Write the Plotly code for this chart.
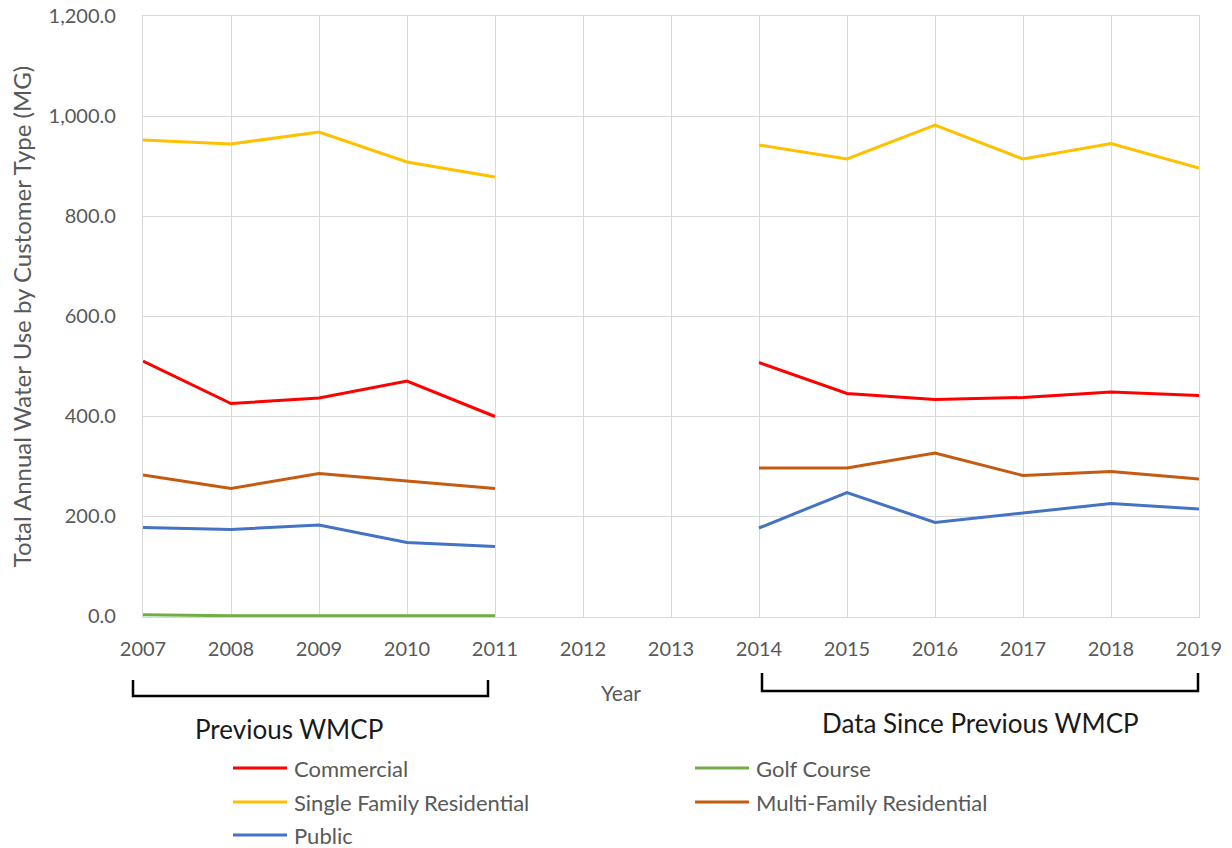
import plotly.graph_objects as go

years = [2007, 2008, 2009, 2010, 2011, 2012, 2013, 2014, 2015, 2016, 2017, 2018, 2019]

commercial = [510, 425, 436, 470, 399, None, None, 507, 445, 433, 437, 448, 441]
golf_course = [2.5, 0.5, 0.5, 0.5, 0.5, None, None, None, None, None, None, None, None]
single_family = [952, 944, 968, 908, 878, None, None, 942, 914, 982, 914, 945, 896]
multi_family = [282, 255, 285, 270, 255, None, None, 296, 296, 326, 281, 289, 274]
public = [177, 173, 182, 147, 139, None, None, 176, 247, 187, 206, 225, 214]

series_names = ["Commercial", "Golf Course", "Single Family Residential",
                "Multi-Family Residential", "Public"]
series_values = [commercial, golf_course, single_family, multi_family, public]
series_colors = ["#FF0000", "#70AD47", "#FFC000", "#C55A11", "#4472C4"]

y_ticks = [0, 200, 400, 600, 800, 1000, 1200]

W, H = 1232, 848
L, R, T, B = 143, 33, 16, 231
PW, PH = W - L - R, H - T - B


def px(xp):
    return (xp - L) / PW


def py(yp):
    return (H - B - yp) / PH


FONT = "Lato"
GRAY = "#595959"

fig = go.Figure()
for name, vals, col in zip(series_names, series_values, series_colors):
    fig.add_trace(go.Scatter(x=years, y=vals, name=name, mode="lines",
                             line=dict(color=col, width=3),
                             connectgaps=False, showlegend=False))

fig.update_layout(
    width=W, height=H,
    margin=dict(l=L, r=R, t=T, b=B, pad=0, autoexpand=False),
    paper_bgcolor="white", plot_bgcolor="white",
    font=dict(family=FONT, color=GRAY, size=20),
)
fig.update_xaxes(range=[2007, 2019], tickmode="array", tickvals=years,
                 ticktext=[str(y) for y in years], automargin=False,
                 showgrid=True, gridcolor="#D9D9D9", gridwidth=1.3,
                 showline=True, linecolor="#D9D9D9", linewidth=1.3, mirror=True,
                 zeroline=False, ticks="", ticklabelstandoff=14,
                 tickfont=dict(size=20, color=GRAY))
fig.update_yaxes(range=[-2, 1200], tickmode="array", tickvals=y_ticks,
                 ticktext=[f"{v:,.1f}" for v in y_ticks], automargin=False,
                 showgrid=True, gridcolor="#D9D9D9", gridwidth=1.3,
                 showline=True, linecolor="#D9D9D9", linewidth=1.3, mirror=True,
                 zeroline=False, ticks="", ticklabelstandoff=22,
                 tickfont=dict(size=20, color=GRAY),
                 title=dict(text="Total Annual Water Use by Customer Type (MG)",
                            font=dict(size=24, color=GRAY), standoff=10))

# x-axis title
fig.add_annotation(x=px(621), y=py(693), xref="paper", yref="paper",
                   text="Year", showarrow=False, xanchor="center", yanchor="middle",
                   font=dict(size=21, color=GRAY))

# brackets
def bracket(x0, x1, ytop, ybot):
    path = (f"M {px(x0)} {py(ytop)} L {px(x0)} {py(ybot)} "
            f"L {px(x1)} {py(ybot)} L {px(x1)} {py(ytop)}")
    fig.add_shape(type="path", path=path, xref="paper", yref="paper",
                  line=dict(color="black", width=2.5))


bracket(133, 488, 680, 696)
bracket(762, 1198, 673, 691)

fig.add_annotation(x=px(289), y=py(729), xref="paper", yref="paper",
                   text="Previous WMCP", showarrow=False, xanchor="center",
                   yanchor="middle", font=dict(size=26, color="#1a1a1a"))
fig.add_annotation(x=px(980), y=py(723), xref="paper", yref="paper",
                   text="Data Since Previous WMCP", showarrow=False, xanchor="center",
                   yanchor="middle", font=dict(size=26, color="#1a1a1a"))

# manual legend
legend_pos = [(233, 768), (695, 768), (233, 802), (695, 802), (233, 835)]
for (lx, ly), name, col in zip(legend_pos, series_names, series_colors):
    fig.add_shape(type="line", xref="paper", yref="paper",
                  x0=px(lx), x1=px(lx + 54), y0=py(ly), y1=py(ly),
                  line=dict(color=col, width=3))
    fig.add_annotation(x=px(lx + 59), y=py(ly), xref="paper", yref="paper",
                       text=name, showarrow=False, xanchor="left", yanchor="middle",
                       font=dict(size=22, color=GRAY))

fig.write_html("out.html")
